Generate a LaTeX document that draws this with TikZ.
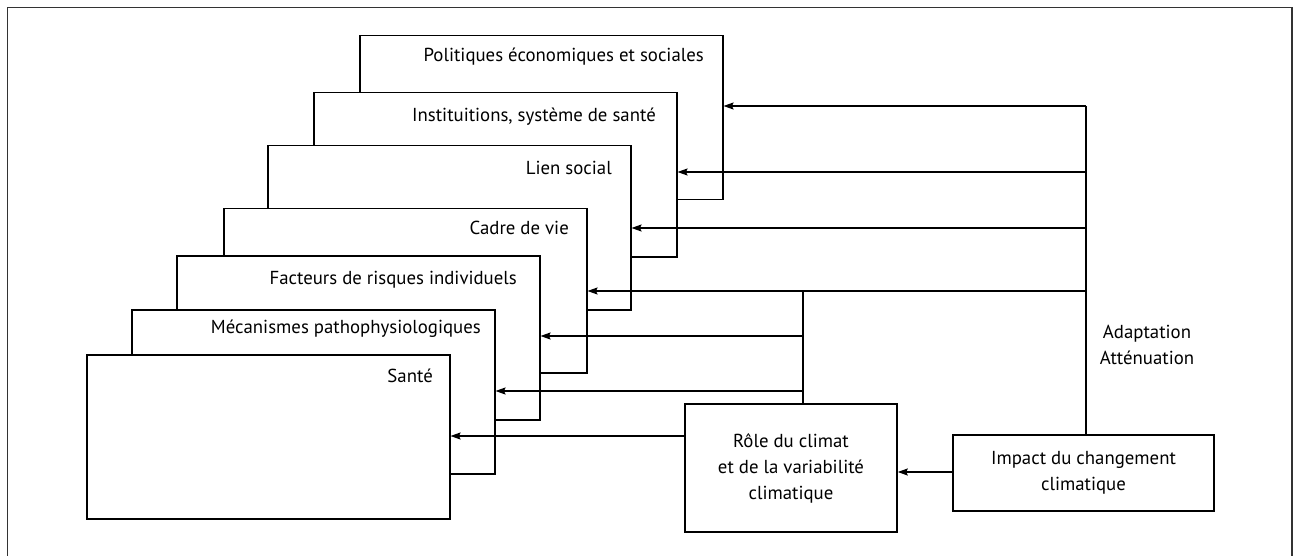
\documentclass[tikz,border=0pt]{standalone}
\usepackage{fontspec}
\setmainfont{PT Sans}
\usetikzlibrary{arrows.meta}
\begin{document}
\begin{tikzpicture}[x=1pt,y=-1pt,
  layer/.style={draw, fill=white, line width=1.5pt, inner sep=0pt, anchor=north west,
    minimum width=363pt, minimum height=164pt},
  lab/.style={anchor=east, inner sep=0pt, font=\fontsize{18.8}{20}\selectfont},
  plain/.style={draw, fill=white, line width=1.5pt, inner sep=0pt, align=center,
    font=\fontsize{18.8}{26}\selectfont},
  conn/.style={line width=1.5pt},
  arr/.style={line width=1.5pt, -{Stealth[length=10pt,width=7pt,inset=1.5pt]}},
  frame/.style={line width=1.6pt, draw=black!80}
]
\useasboundingbox (0,0) rectangle (1298,556);
\draw[frame] (7.5,560) -- (7.5,7.5) -- (1292,7.5) -- (1292,560);

\node[layer] (pol)   at (359,35)  {};
\node[lab]   (lpol)  at (704,57)  {Politiques économiques et sociales};
\node[layer] (ins)   at (313,92)  {};
\node[lab]   (lins)  at (656,117) {Instituitions, système de santé};
\node[layer] (lien)  at (267,145) {};
\node[lab]   (llien) at (612,168) {Lien social};
\node[layer] (cadre) at (223,208) {};
\node[lab]   (lcad)  at (569,228) {Cadre de vie};
\node[layer] (fact)  at (176,255) {};
\node[lab]   (lfac)  at (517,280) {Facteurs de risques individuels};
\node[layer] (meca)  at (131,309) {};
\node[lab]   (lmec)  at (481,329) {Mécanismes pathophysiologiques};
\node[layer] (sante) at (86,354)  {};
\node[lab]   (lsan)  at (433,376) {Santé};

\node[plain, minimum width=212pt, minimum height=128pt] (role) at (791,468)
  {Rôle du climat\\et de la variabilité\\climatique};
\node[plain, minimum width=261pt, minimum height=76pt] (impact) at (1083.5,473)
  {Impact du changement\\climatique};
\node[align=center, inner sep=0pt, font=\fontsize{18.8}{26}\selectfont] (adapt) at (1147,345)
  {Adaptation\\Atténuation};

% trunk A
\coordinate (a1) at (1086,106);
\coordinate (a2) at (1086,172);
\coordinate (a3) at (1086,228);
\coordinate (a4) at (1086,291);
\draw[conn] (a1) -- (a1 |- impact.north);
\draw[arr] (a1) -- (a1 -| pol.east);
\draw[arr] (a2) -- (a2 -| ins.east);
\draw[arr] (a3) -- (a3 -| lien.east);
\draw[arr] (a4) -- (a4 -| cadre.east);
% trunk B
\coordinate (b0) at (803,291);
\coordinate (b1) at (803,336);
\coordinate (b2) at (803,391);
\draw[conn] (b0) -- (b0 |- role.north);
\draw[arr] (b1) -- (b1 -| fact.east);
\draw[arr] (b2) -- (b2 -| meca.east);
% role and impact
\coordinate (r1) at (role.west |- 0,436);
\draw[arr] (r1) -- (r1 -| sante.east);
\coordinate (i1) at (impact.west |- 0,472);
\draw[arr] (i1) -- (i1 -| role.east);
\end{tikzpicture}
\end{document}
